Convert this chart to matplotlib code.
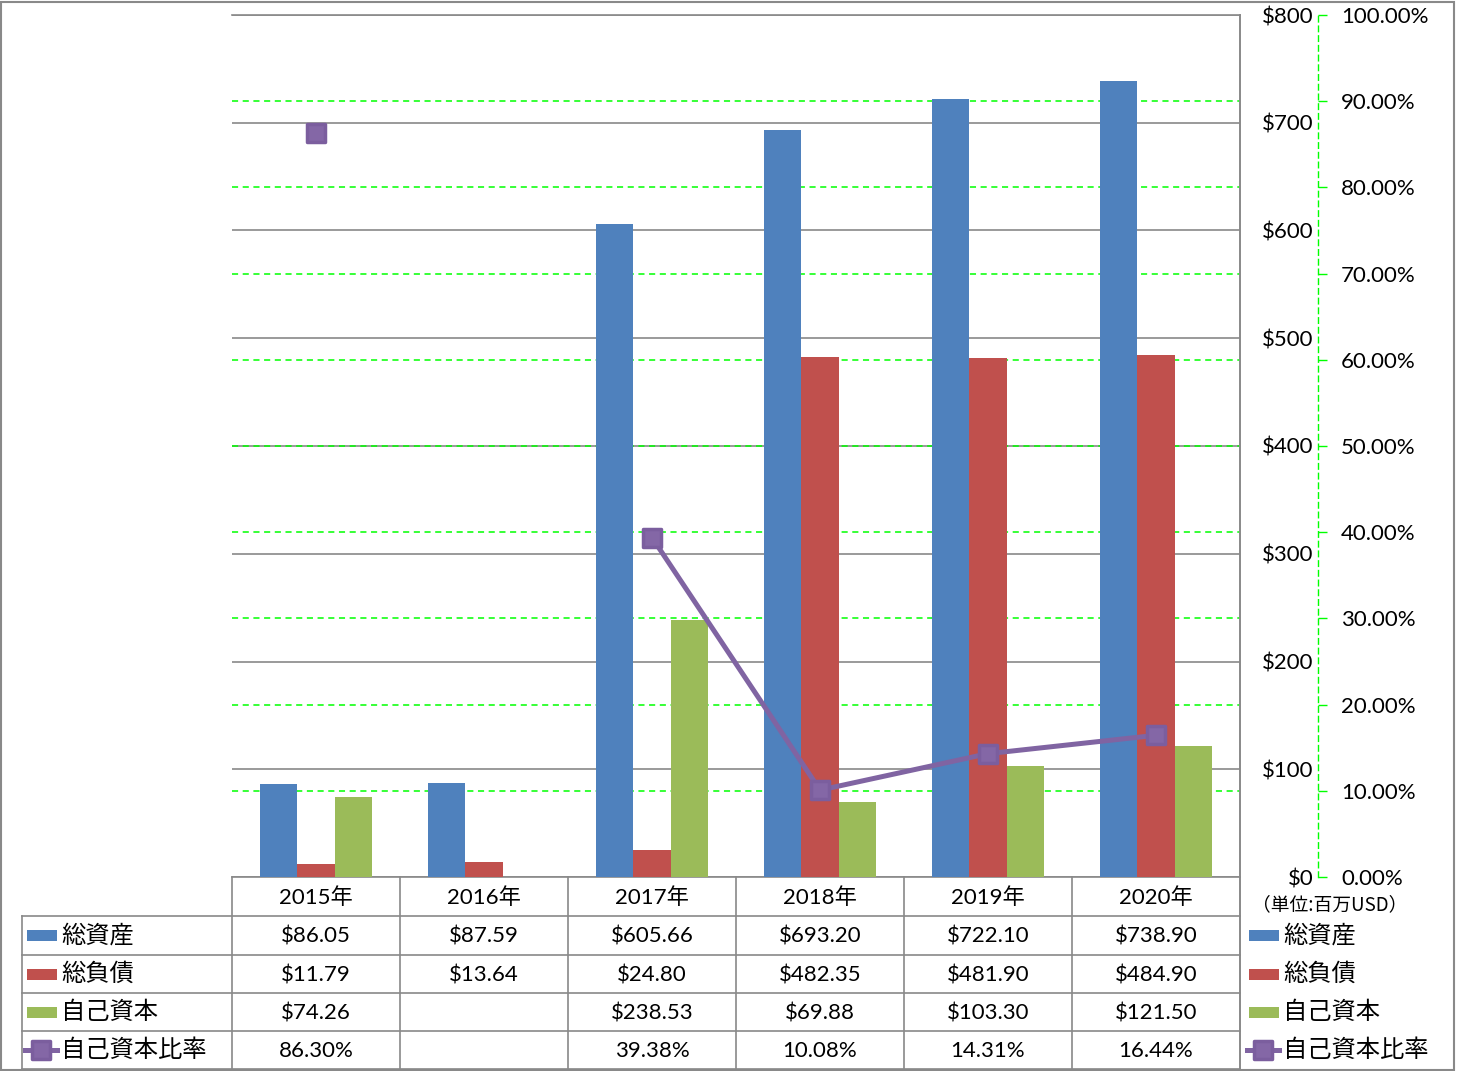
import numpy as np
import matplotlib
matplotlib.use("Agg")
import matplotlib.pyplot as plt
from matplotlib.patches import Rectangle
from matplotlib.lines import Line2D
from matplotlib.markers import MarkerStyle
from matplotlib.transforms import blended_transform_factory
from matplotlib.ticker import FuncFormatter

plt.rcParams['font.family'] = ['Lato', 'Noto Sans CJK JP', 'DejaVu Sans']

# ---------------- data ----------------
years = ['2015年', '2016年', '2017年', '2018年', '2019年', '2020年']
assets = [86.05, 87.59, 605.66, 693.20, 722.10, 738.90]
liabilities = [11.79, 13.64, 24.80, 482.35, 481.90, 484.90]
equity = [74.26, np.nan, 238.53, 69.88, 103.30, 121.50]
ratio = [86.30, np.nan, 39.38, 10.08, 14.31, 16.44]
series_names = ['総資産', '総負債', '自己資本', '自己資本比率']
unit_label = '（単位:百万USD）'
usd_ticks = list(range(0, 801, 100))
pct_ticks = list(range(0, 101, 10))

C_BLUE, C_RED, C_GREEN, C_PURPLE = '#4F81BD', '#C0504D', '#9BBB59', '#8064A2'
GRAY = '#898989'
LIME = '#00FF00'
JP = ['Noto Sans CJK JP', 'DejaVu Sans']
NUM_FS = 16
JP_FS = 17.5

W, H = 1457, 1071
fig = plt.figure(figsize=(W / 100, H / 100), dpi=100)

def fx(x):
    return x / W

def fy(y):
    return (H - y) / H

L, R, T, B = 232, 1240, 15, 877
ax = fig.add_axes([fx(L), fy(B), (R - L) / W, (B - T) / H])
ax2 = ax.twinx()

x = np.arange(len(years))
bw = 1 / 4.5
ax.bar(x - bw, assets, bw, color=C_BLUE, zorder=3)
ax.bar(x, liabilities, bw, color=C_RED, zorder=3)
ax.bar(x + bw, equity, bw, color=C_GREEN, zorder=3)
ax.set_xlim(-0.5, len(years) - 0.5)
ax.set_ylim(0, 800)
ax.set_xticks([])

# $ axis (right side, no ticks, labels right-aligned)
ax.yaxis.tick_right()
ax.set_yticks(usd_ticks)
ax.yaxis.set_major_formatter(FuncFormatter(lambda v, p: f'${v:.0f}'))
ax.tick_params(axis='y', length=0, pad=53, labelsize=NUM_FS)
for lab in ax.get_yticklabels():
    lab.set_horizontalalignment('right')
ax.yaxis.grid(True, color=GRAY, lw=1.2, zorder=0)
ax.set_axisbelow(True)
ax.spines['left'].set_visible(False)
for s in ['top', 'bottom', 'right']:
    ax.spines[s].set_color(GRAY)
    ax.spines[s].set_linewidth(1.2)

# % axis
ax2.set_ylim(0, 100)
ax2.set_yticks(pct_ticks)
ax2.yaxis.set_major_formatter(FuncFormatter(lambda v, p: f'{v:.2f}%'))
ax2.spines['right'].set_position(('axes', (1318 - L) / (R - L)))
ax2.spines['right'].set_color(LIME)
ax2.spines['right'].set_linestyle((0, (4, 3)))
ax2.spines['right'].set_linewidth(1)
for s in ['left', 'top', 'bottom']:
    ax2.spines[s].set_visible(False)
ax2.tick_params(axis='y', direction='out', length=6.5, width=1, color=LIME,
                pad=10, labelsize=NUM_FS)

# % gridlines drawn in ax (below bars)
gtrans = blended_transform_factory(ax.transAxes, ax2.transData)
for p in pct_ticks[1:-1]:
    ax.add_line(Line2D([0, 1], [p, p], transform=gtrans, color=LIME,
                       lw=1.1, ls=(0, (4, 3)), zorder=1))

# ratio line
mk = MarkerStyle('s', joinstyle='round')
ax2.plot(x, ratio, color=C_PURPLE, lw=3.6, marker=mk, ms=13.5,
         mfc='#8467A6', mec='#7B5E9E', mew=2.5, zorder=5)

# ---------------- data table ----------------
rows_y = [877, 916, 955, 993, 1031, 1069]
xl_tab = 22

def hline(y, x0, x1):
    fig.add_artist(Line2D([fx(x0), fx(x1)], [fy(y), fy(y)], transform=fig.transFigure,
                          color=GRAY, lw=1.2))

def vline(xp, y0, y1):
    fig.add_artist(Line2D([fx(xp), fx(xp)], [fy(y0), fy(y1)], transform=fig.transFigure,
                          color=GRAY, lw=1.2))

for y in rows_y[1:]:
    hline(y, xl_tab, R)
colw = (R - L) / len(years)
for i in range(len(years) + 1):
    vline(L + i * colw, B, rows_y[-1])
vline(xl_tab, rows_y[1], rows_y[-1])
vline(R, T, rows_y[-1])

ctr = [(rows_y[i] + rows_y[i + 1]) / 2 + 1 for i in range(5)]
ttrans = blended_transform_factory(ax.transData, fig.transFigure)
for i, yr in enumerate(years):
    ax.text(i, fy(ctr[0]), yr, transform=ttrans, ha='center', va='center',
            fontsize=NUM_FS, clip_on=False)

def fmt_usd(v):
    return '' if np.isnan(v) else f'${v:.2f}'

def fmt_pct(v):
    return '' if np.isnan(v) else f'{v:.2f}%'

table_rows = [[fmt_usd(v) for v in assets], [fmt_usd(v) for v in liabilities],
              [fmt_usd(v) for v in equity], [fmt_pct(v) for v in ratio]]
for r, row in enumerate(table_rows):
    for i, s in enumerate(row):
        ax.text(i, fy(ctr[r + 1]), s, transform=ttrans, ha='center', va='center',
                fontsize=NUM_FS, clip_on=False)

colors = [C_BLUE, C_RED, C_GREEN]

def legend_entry(xk, xt, yc, idx):
    if idx < 3:
        fig.add_artist(Rectangle((fx(xk), fy(yc + 5.5)), 30 / W, 11 / H,
                                 transform=fig.transFigure, color=colors[idx], lw=0))
    else:
        fig.add_artist(Line2D([fx(xk - 2), fx(xk + 30)], [fy(yc), fy(yc)],
                              transform=fig.transFigure, color=C_PURPLE, lw=3.6))
        fig.add_artist(Line2D([fx(xk + 14)], [fy(yc)], transform=fig.transFigure,
                              marker=mk, ms=13.5, mfc='#8467A6', mec='#7B5E9E',
                              mew=2.5, color=C_PURPLE))
    fig.text(fx(xt), fy(yc), series_names[idx], ha='left', va='center',
             fontsize=JP_FS, family=JP)

for k in range(4):
    legend_entry(27, 61, ctr[k + 1] - 1, k)
    legend_entry(1249, 1283, ctr[k + 1] - 1, k)

fig.text(fx(1252), fy(905), unit_label, ha='left', va='center', fontsize=13.5, family=JP)

# outer border
fig.add_artist(Rectangle((0.0005, 0.0008), 0.9975, 0.9975, transform=fig.transFigure,
                         fill=False, edgecolor=GRAY, lw=1.5))

fig.savefig('out.png', dpi=100)
